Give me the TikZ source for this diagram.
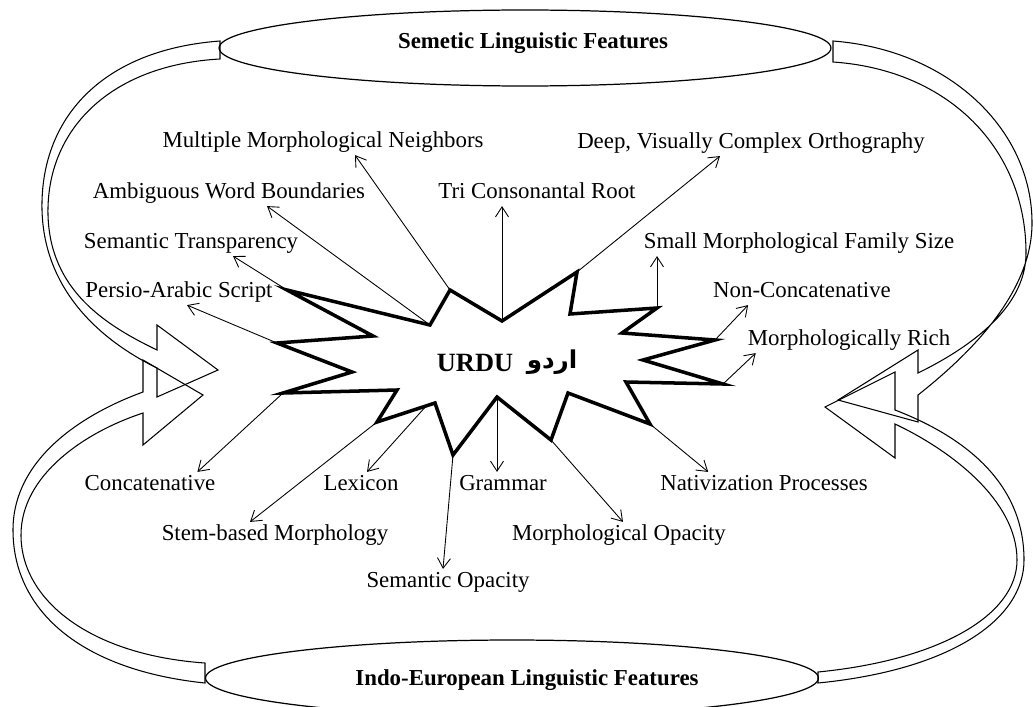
\documentclass[tikz,border=0pt]{standalone}
\usepackage{fontspec}
\setmainfont{Liberation Serif}
\newfontfamily\arabicfont[Script=Arabic]{DejaVu Sans}
\TeXXeTstate=1
\usetikzlibrary{calc,shapes.geometric,arrows.meta}
\tikzset{
  lbl/.style={font=\fontsize{13}{15}\selectfont, inner sep=1pt, text height=9.5pt, text depth=3pt},
  hdr/.style={font=\fontsize{13}{15}\selectfont\bfseries, inner sep=1pt},
  ttl/.style={draw, ellipse, line width=0.7pt, minimum width=12.24cm, minimum height=1.52cm, inner sep=0pt},
  feat/.style={line width=0.5pt, -{Straight Barb[length=2mm,width=2.6mm]}},
  burst/.style={line width=2pt, line join=miter},
  band/.style={line width=0.6pt}
}

\begin{document}
\begin{tikzpicture}[x=0.02cm, y=-0.02cm]
	%%%%% START %%%%%
	\useasboundingbox (0,0) rectangle (1033,706);
	
	% feature families
	\node[ttl] (sem) at (525,48) {};
	\node[hdr] (semT) at (533,43) {Semetic Linguistic Features};
	\node[ttl, minimum width=12.26cm] (ind) at (512,678) {};
	\node[hdr] (indT) at (527,680) {Indo-European Linguistic Features};
	
	% curved block arrows
	\draw[band] (220,41) .. controls (100,50) and (40,120) .. (42,210) .. controls (44,290) and (100,340) .. (157,368) -- (157,397) -- (218,370) -- (157,325) -- (157,350) .. controls (105,325) and (50,290) .. (48,215) .. controls (46,130) and (110,65) .. (220,59) -- cycle;
	\draw[band] (833,41) .. controls (950,50) and (1032,130) .. (1032,223) .. controls (1032,290) and (975,350) .. (918,395) -- (918,422) -- (838,400) -- (918,350) -- (918,373) .. controls (965,350) and (1026,310) .. (1026,253) .. controls (1026,150) and (950,70) .. (833,62) -- cycle;
	\draw[band] (205,683) .. controls (80,670) and (13,610) .. (13,530) .. controls (13,460) and (80,415) .. (143,392) -- (143,360) -- (203,395) -- (143,445) -- (143,413) .. controls (85,432) and (21,475) .. (21,535) .. controls (21,600) and (90,655) .. (205,663) -- cycle;
	\draw[band] (818,683) .. controls (950,670) and (1024,620) .. (1024,560) .. controls (1024,480) and (960,435) .. (895,410) -- (895,372) -- (825,407) -- (895,458) -- (895,424) .. controls (950,450) and (1017,500) .. (1017,560) .. controls (1017,615) and (940,660) .. (818,672) -- cycle;
	
	% starburst
	\coordinate (v1) at (502,321);
	\coordinate (v2) at (577,272);
	\coordinate (v3) at (570,314);
	\coordinate (v4) at (657,308);
	\coordinate (v5) at (622,333);
	\coordinate (v6) at (715,340);
	\coordinate (v7) at (643,360);
	\coordinate (v8) at (723,384);
	\coordinate (v9) at (626,382);
	\coordinate (v10) at (650,424);
	\coordinate (v11) at (568,393);
	\coordinate (v12) at (551,440);
	\coordinate (v13) at (497,397);
	\coordinate (v14) at (453,455);
	\coordinate (v15) at (435,403);
	\coordinate (v16) at (377,422);
	\coordinate (v17) at (397,390);
	\coordinate (v18) at (283,393);
	\coordinate (v19) at (352,372);
	\coordinate (v20) at (277,343);
	\coordinate (v21) at (373,336);
	\coordinate (v22) at (287,290);
	\coordinate (v23) at (430,325);
	\coordinate (v24) at (450,290);
	\draw[burst] (v1) -- (v2) -- (v3) -- (v4) -- (v5) -- (v6) -- (v7) -- (v8) -- (v9) -- (v10) -- (v11) -- (v12) -- (v13) -- (v14) -- (v15) -- (v16) -- (v17) -- (v18) -- (v19) -- (v20) -- (v21) -- (v22) -- (v23) -- (v24) -- cycle;
	
	\node[font=\fontsize{15}{18}\selectfont\bfseries, inner sep=1pt] (urdu) at (475,363) {URDU};
	\node[font=\fontsize{14}{18}\selectfont, inner sep=1pt] (urduAr) at (552,362) {\arabicfont\bfseries\beginR اردو\endR};
	
	% features
	\node[lbl] (mmn) at (323,142) {Multiple Morphological Neighbors};
	\node[lbl] (dvc) at (751,143) {Deep, Visually Complex Orthography};
	\node[lbl] (awb) at (229,193) {Ambiguous Word Boundaries};
	\node[lbl] (tcr) at (537,193) {Tri Consonantal Root};
	\node[lbl] (str) at (191,243) {Semantic Transparency};
	\node[lbl] (smf) at (799,243) {Small Morphological Family Size};
	\node[lbl] (pas) at (179,292) {Persio-Arabic Script};
	\node[lbl] (ncc) at (802,292) {Non-Concatenative};
	\node[lbl] (mrc) at (849,340) {Morphologically Rich};
	\node[lbl] (cct) at (150,485) {Concatenative};
	\node[lbl] (lex) at (361,485) {Lexicon};
	\node[lbl] (gra) at (503,485) {Grammar};
	\node[lbl] (nat) at (764,485) {Nativization Processes};
	\node[lbl] (sbm) at (275,535) {Stem-based Morphology};
	\node[lbl] (mop) at (619,535) {Morphological Opacity};
	\node[lbl] (sop) at (448,582) {Semantic Opacity};
	
	\draw[feat] (v24) -- ($(mmn.south)+(32,0)$);
	\draw[feat] (v2) -- ($(dvc.south)+(-31,0)$);
	\draw[feat] (v23) -- ($(awb.south)+(38,0)$);
	\draw[feat] (v1) -- (v1 |- tcr.south);
	\draw[feat] (v22) -- ($(str.south)+(42,0)$);
	\draw[feat] (v4) -- (v4 |- smf.south);
	\draw[feat] (v20) -- ($(pas.south)+(8,0)$);
	\draw[feat] (v6) -- ($(ncc.south west)+(37,0)$);
	\draw[feat] (v8) -- ($(mrc.south west)+(10,0)$);
	\draw[feat] (v18) -- ($(cct.north east)+(-20,0)$);
	\draw[feat] ($(v15)!0.15!(v16)$) -- ($(lex.north)+(6,0)$);
	\draw[feat] (v13) -- (v13 |- gra.north);
	\draw[feat] (v10) -- ($(nat.north west)+(50,0)$);
	\draw[feat] (v16) -- ($(sbm.north)+(-25,0)$);
	\draw[feat] (v12) -- ($(mop.north)+(4,0)$);
	\draw[feat] (v14) -- ($(sop.north)+(-5,0)$);
	
	%%%%% END %%%%%
\end{tikzpicture}
\end{document}
